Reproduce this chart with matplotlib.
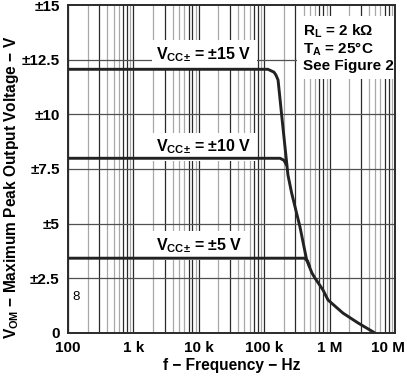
import matplotlib
matplotlib.use('Agg')
import matplotlib.pyplot as plt
import matplotlib.transforms as mtransforms
from matplotlib.ticker import FixedLocator, NullFormatter

plt.rcParams['font.family'] = ['Liberation Sans', 'DejaVu Sans']
plt.rcParams['font.weight'] = 'bold'
plt.rcParams['mathtext.fontset'] = 'custom'
plt.rcParams['mathtext.rm'] = 'Liberation Sans:bold'
plt.rcParams['mathtext.it'] = 'Liberation Sans:bold'
plt.rcParams['mathtext.bf'] = 'Liberation Sans:bold'

# curves (frequency in Hz, VOM in V)
freq_15 = [100, 114e3, 141e3, 151e3, 163e3, 194e3, 231e3, 263e3, 352e3, 446e3,
           538e3, 598e3, 792e3, 946e3, 1.6e6, 2.72e6, 4.94e6]
vom_15 = [12.06, 12.06, 11.93, 11.8, 11.57, 9.37, 7.22, 6.40, 4.86, 3.34,
          2.74, 2.51, 1.97, 1.51, 0.91, 0.46, 0.0]

freq_10 = [100, 175e3, 200e3, 223e3]
vom_10 = [7.99, 7.99, 7.9, 7.65]

freq_5 = [100, 415e3, 460e3, 500e3]
vom_5 = [3.42, 3.42, 3.3, 3.0]

curve_labels = [r'V$_{\mathregular{CC±}}$ = ±15 V',
                r'V$_{\mathregular{CC±}}$ = ±10 V',
                r'V$_{\mathregular{CC±}}$ = ±5 V']
label_y = [12.75, 8.5, 4.0]

x_ticks = [1e2, 1e3, 1e4, 1e5, 1e6, 1e7]
x_ticklabels = ['100', '1 k', '10 k', '100 k', '1 M', '10 M']
y_ticks = [0, 2.5, 5, 7.5, 10, 12.5, 15]
y_ticklabels = ['0', '±2.5', '±5', '±7.5', '±10', '±12.5', '±15']

fig = plt.figure(figsize=(4.07, 3.76), dpi=100)
ax = fig.add_axes([0.167, 0.1144, 0.8035, 0.8723])

ax.set_xscale('log')
ax.set_xlim(100, 1e7)
ax.set_ylim(0, 15)

# vertical grid: decades dark, minors mixed gray / dark
dark = '#2a2a2a'
gray = '#a8a8a8'
minor_col = {2: gray, 3: dark, 4: gray, 5: gray, 6: gray, 7: dark, 8: dark, 9: gray}
for dec in [1e2, 1e3, 1e4, 1e5, 1e6]:
    for m in range(2, 10):
        ax.axvline(dec * m, color=minor_col[m], lw=0.9, zorder=1)
    ax.axvline(dec, color=dark, lw=0.9, zorder=1)
for yv in y_ticks[1:-1]:
    ax.axhline(yv, color='#505050', lw=0.9, zorder=1)

lw = 2.1
ax.plot(freq_15, vom_15, color='#222222', lw=lw, zorder=4, solid_capstyle='butt')
ax.plot(freq_10, vom_10, color='#222222', lw=lw, zorder=4, solid_capstyle='butt')
ax.plot(freq_5, vom_5, color='#222222', lw=lw, zorder=4, solid_capstyle='butt')

box = dict(facecolor='white', edgecolor='none', pad=3.5)
for lab, yv in zip(curve_labels, label_y):
    ax.text(2.25e3, yv, lab, fontsize=11.5, fontweight='bold', ha='left',
            va='center', bbox=box, zorder=3)

ax.text(0.718, 0.945, 'R$_{\\mathregular{L}}$ = 2 kΩ\nT$_{\\mathregular{A}}$ = 25°C\nSee Figure 2',
        transform=ax.transAxes, fontsize=11, fontweight='bold', ha='left', va='top',
        linespacing=1.05, bbox=dict(facecolor='white', edgecolor='none', pad=4), zorder=3)

ax.text(0.012, 0.11, '8', transform=ax.transAxes, fontsize=9.5, fontweight='normal',
        ha='left', va='center', zorder=3)

ax.xaxis.set_major_locator(FixedLocator(x_ticks))
ax.xaxis.set_minor_formatter(NullFormatter())
ax.set_xticks(x_ticks)
ax.set_xticklabels(x_ticklabels)
ax.set_yticks(y_ticks)
ax.set_yticklabels(y_ticklabels)
ax.tick_params(which='both', length=0, labelsize=11, pad=6)
for t in ax.get_xticklabels() + ax.get_yticklabels():
    t.set_fontweight('bold')
last = ax.get_xticklabels()[-1]
last.set_transform(last.get_transform() +
                   mtransforms.ScaledTranslation(-7 / 100, 0, fig.dpi_scale_trans))

ax.set_xlabel('f − Frequency − Hz', fontsize=11.2, fontweight='bold', labelpad=2)
ax.set_ylabel(r'V$_{\mathregular{OM}}$ − Maximum Peak Output Voltage − V',
              fontsize=11.2, fontweight='bold')
ax.yaxis.set_label_coords(-0.145, 0.445)

for s in ax.spines.values():
    s.set_linewidth(1.4)
    s.set_color('#2a2a2a')
    s.set_zorder(5)

fig.savefig('out.png', dpi=100)
